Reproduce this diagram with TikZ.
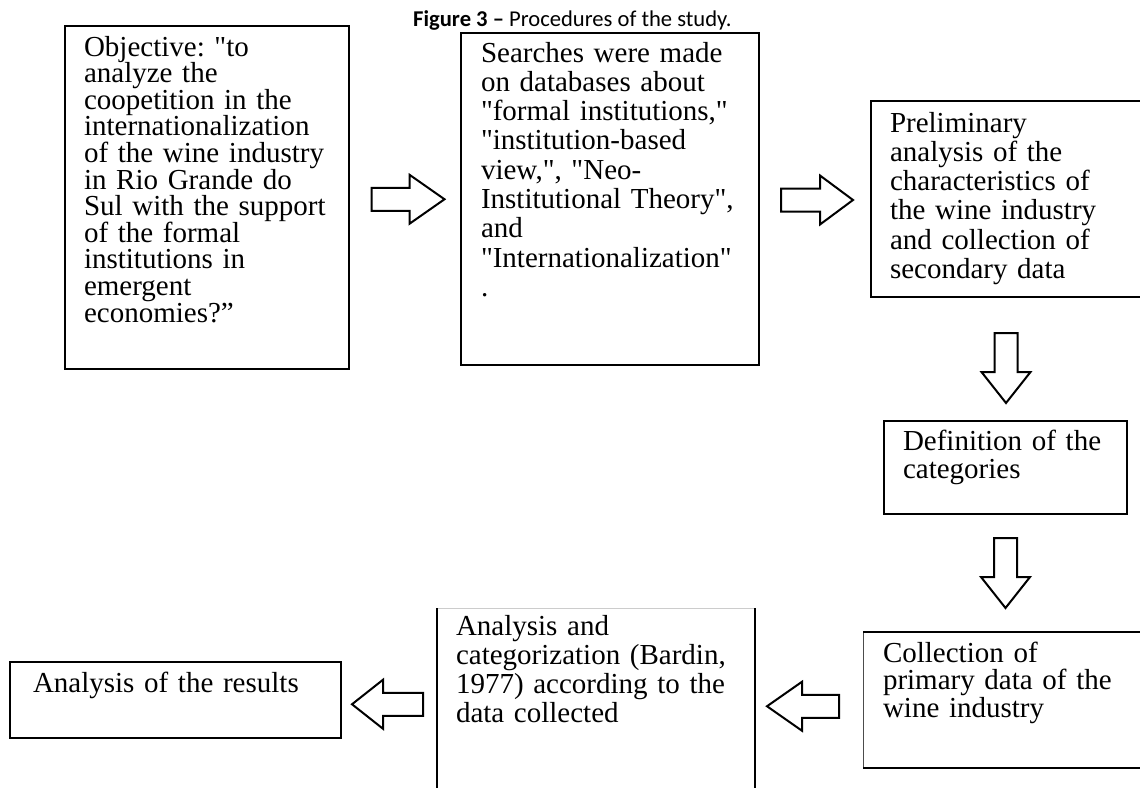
\documentclass[tikz,border=0pt]{standalone}
\usepackage{fontspec}
\setmainfont{Liberation Serif}[Ligatures=TeXOff]
\newfontfamily\titlefont{Carlito}
\usetikzlibrary{calc}
\setlength{\lineskiplimit}{-20pt}
\frenchspacing

\tikzset{pics/fatarrow/.style 2 args={code={
  \draw[hollow] (-#1/2,-11.5) -- (#1/2-#2,-11.5) -- (#1/2-#2,-24.5) -- (#1/2,0)
    -- (#1/2-#2,24.5) -- (#1/2-#2,11.5) -- (-#1/2,11.5) -- cycle;
}}}

\begin{document}
\begin{tikzpicture}[x=1pt,y=-1pt]
        \tikzstyle{stepbox}=[draw=black,line width=2.6pt,anchor=north west,align=left,inner ysep=0pt,outer sep=0pt,font=\fontsize{29}{29.3}\selectfont]
        \tikzstyle{openbox}=[stepbox,draw=none]
        \tikzstyle{hollow}=[draw=black,line width=2pt,fill=white,line join=miter]
        \useasboundingbox (0,0) rectangle (1140,787);
        \node [anchor=base west,inner sep=0pt,font=\titlefont\fontsize{22.6}{26}\selectfont] (title) at (413,27) {\textbf{Figure 3 –} Procedures of the study.};
       \begin{scope}
         \node [stepbox,inner xsep=19pt,text width=246pt,text height=30pt,text depth=313pt,font=\fontsize{29}{26.6}\selectfont] (objective) at (65,26)
           {Objective: "to\\ analyze the\\ coopetition in the\\ internationalization\\ of the wine industry\\ in Rio Grande do\\ Sul with the support\\ of the formal\\ institutions in\\ emergent\\ economies?”};
         \node [stepbox,inner xsep=20pt,text width=258pt,text height=29pt,text depth=303pt] (searches) at (461,33)
           {Searches were made\\ on databases about\\ "formal institutions,"\\ "institution-based\\ view,", "Neo-\\ Institutional Theory",\\ and\\ "Internationalization"\\ .};
         \node [stepbox,inner xsep=19pt,text width=233pt,text height=31pt,text depth=165pt] (prelim) at (871,101)
           {Preliminary\\ analysis of the\\ characteristics of\\ the wine industry\\ and collection of\\ secondary data};
         \node [stepbox,inner xsep=19pt,text width=205pt,text height=29pt,text depth=64pt,font=\fontsize{29}{28}\selectfont] (categories) at (884,421)
           {Definition of the\\ categories};
         \node [openbox,inner xsep=20pt,text width=242pt,text height=30pt,text depth=106pt,font=\fontsize{29}{27.5}\selectfont] (primary) at (863,632)
           {Collection of\\ primary data of the\\ wine industry};
         \node [openbox,inner xsep=19pt,text width=280pt,text height=27pt,text depth=182pt,font=\fontsize{29}{29}\selectfont] (bardin) at (437,608)
           {Analysis and\\ categorization (Bardin,\\ 1977) according to the\\ data collected};
         \node [stepbox,inner xsep=23pt,text width=285pt,text height=30pt,text depth=46pt] (results) at (10,662)
           {Analysis of the results};
         % partial borders
         \draw [line width=0.8pt,black!70] (primary.north west) -- (primary.south west);
         \draw [line width=2.6pt] (primary.north west) -- (primary.north east);
         \draw [line width=2.6pt] (primary.south west) -- (primary.south east);
         \draw [line width=0.6pt,black!20] (bardin.north west) -- (bardin.north east);
         \draw [line width=2.6pt] (bardin.north west) -- (bardin.south west);
         \draw [line width=2.6pt] (bardin.north east) -- (bardin.south east);
         % block arrows
         \pic at ($(objective.east)!.5!(searches.west)+(3,1)$) {fatarrow={73}{35}};
         \pic at ($(searches.east)!.5!(prelim.west)+(2,1)$) {fatarrow={72}{33}};
         \pic [rotate=-90] at ($(prelim.south)!.5!(categories.north)+(0,9)$) {fatarrow={70}{31}};
         \pic [rotate=-90] at ($(categories.south)!.5!(categories.south |- primary.north)$) {fatarrow={70}{31}};
         \pic [rotate=180] at ($(bardin.east)!.5!(primary.west)+(-6,0)$) {fatarrow={72}{35}};
         \pic [rotate=180] at ($(results.east)!.5!(bardin.west)+(-1.5,-2)$) {fatarrow={71}{31}};
        \end{scope}
      \end{tikzpicture}
\end{document}
